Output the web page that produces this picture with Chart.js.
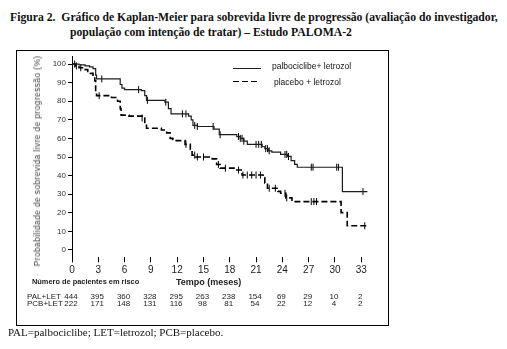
<!DOCTYPE html>
<html lang="pt">
<head>
<meta charset="UTF-8">
<title>Kaplan-Meier PALOMA-2</title>
<style>
    body {
        margin: 0;
        padding: 0;
        background: #fff;
        width: 507px;
        height: 349px;
        position: relative;
        overflow: hidden;
    }

    #chart {
        position: absolute;
        left: 0;
        top: 0;
    }

    .title {
        position: absolute;
        font-family: "Liberation Serif", "Times New Roman", serif;
        font-weight: bold;
        font-size: 11.7px;
        color: #111;
        white-space: nowrap;
    }

    .frame {
        position: absolute;
        left: 16px;
        top: 50px;
        width: 371px;
        height: 274px;
        border: 1px solid #000;
    }

    .ytitle {
        position: absolute;
        left: 37px;
        top: 161px;
        transform: translate(-50%, -50%) rotate(-90deg);
        font-family: "Liberation Sans", Arial, sans-serif;
        font-size: 8.5px;
        letter-spacing: 0.35px;
        color: #444;
        white-space: nowrap;
    }

    .leg-text {
        position: absolute;
        font-family: "Liberation Sans", Arial, sans-serif;
        font-size: 8.5px;
        color: #111;
        white-space: nowrap;
    }

    .leg-solid {
        position: absolute;
        left: 233px;
        top: 68px;
        width: 28px;
        height: 1px;
        background: #222;
    }

    .leg-dash {
        position: absolute;
        left: 233px;
        top: 80.5px;
        width: 26px;
        height: 1.5px;
        background: repeating-linear-gradient(to right, #000 0 6px, transparent 6px 9px);
    }

    .risk-head {
        position: absolute;
        font-family: "Liberation Sans", Arial, sans-serif;
        font-size: 7.4px;
        font-weight: bold;
        color: #222;
        white-space: nowrap;
    }

    .xtitle {
        position: absolute;
        font-family: "Liberation Sans", Arial, sans-serif;
        font-size: 9px;
        font-weight: bold;
        color: #222;
        white-space: nowrap;
    }

    .foot {
        position: absolute;
        left: 8px;
        top: 326px;
        font-family: "Liberation Serif", "Times New Roman", serif;
        font-size: 11px;
        color: #111;
        white-space: nowrap;
    }
</style>
</head>
<body>
    <div class="title" style="left:10px; top:11px;">Figura 2.&nbsp; Gráfico de Kaplan-Meier para sobrevida livre de progressão (avaliação do investigador,</div>
    <div class="title" style="left:70px; top:26px;">população com intenção de tratar) – Estudo PALOMA-2</div>
    <div class="frame"></div>
    <canvas id="chart" width="507" height="349"></canvas>
    <div class="ytitle">Probabilidade de sobrevida livre de progressão (%)</div>
    <div class="leg-solid"></div>
    <div class="leg-text" style="left:272px; top:61px;">palbociclibe+ letrozol</div>
    <div class="leg-dash"></div>
    <div class="leg-text" style="left:274px; top:77px;">placebo + letrozol</div>
    <div class="risk-head" style="left:32px; top:277px;">Número de pacientes em risco</div>
    <div class="xtitle" style="left:176px; top:277px;">Tempo (meses)</div>
    <div class="foot">PAL=palbociclibe; LET=letrozol; PCB=placebo.</div>

    <script src="https://cdn.jsdelivr.net/npm/chart.js"></script>
    <script>
        // step curves: time (months) and survival (%) from that time on
        const palTimes = [0, 0.8, 1.5, 2.0, 2.4, 2.7, 2.8, 5.5, 5.7, 6.0, 7.9, 8.3, 8.5, 10.6, 11.0, 11.3, 13.3, 13.6, 13.8, 14.3, 16.2, 16.8, 18.8, 19.2, 19.6, 20.0, 21.7, 22.0, 22.4, 22.8, 23.8, 24.6, 25.0, 25.4, 25.7, 30.85, 33.7];
        const palSurv  = [100, 99.5, 99, 98.5, 97.5, 94, 92, 89, 87, 86.2, 85.7, 83, 80.5, 79.5, 76, 73.2, 72, 70, 67, 66.4, 65, 62, 61, 60, 58.5, 56.8, 55.5, 54.5, 53.3, 52.6, 51.4, 50.3, 48, 46, 44.5, 31.4, 31.4];

        const pcbTimes = [0, 0.4, 0.8, 1.3, 1.8, 2.1, 2.4, 2.6, 2.7, 2.8, 4.5, 5.2, 5.5, 5.6, 6.5, 8.0, 8.3, 8.5, 10.2, 10.8, 11.2, 11.5, 12.9, 13.5, 13.7, 14.1, 16.0, 16.5, 16.9, 18.8, 19.4, 21.8, 22.0, 22.3, 23.5, 23.8, 24.4, 25.1, 30.7, 31.4, 33.7];
        const pcbSurv  = [100, 99, 98, 97, 96, 95, 94, 91, 85, 83, 82, 80, 76, 72.5, 72, 71, 68, 65.5, 64.5, 63, 60, 58.8, 56.8, 54, 51, 50, 49, 46, 44, 43, 40.3, 39, 36, 33.2, 31.5, 30.5, 28, 26, 20.1, 13, 13];

        // censored observations (months)
        const palCensor = [0.3, 3.4, 7.6, 8.6, 10.7, 12.6, 13.0, 14.0, 14.3, 16.1, 16.9, 19.0, 19.2, 19.4, 19.6, 21.0, 21.3, 21.6, 22.1, 22.3, 22.5, 24.3, 24.5, 24.7, 27.3, 27.5, 30.2, 30.4, 33.2];
        const pcbCensor = [0.5, 1.0, 3.1, 8.0, 13.0, 14.0, 14.3, 15.0, 16.7, 17.5, 19.0, 19.5, 20.0, 20.5, 21.0, 21.5, 22.5, 23.2, 24.3, 24.5, 27.3, 27.6, 27.9, 33.4];

        // axis ticks and numbers at risk
        const xTicks = [0, 3, 6, 9, 12, 15, 18, 21, 24, 27, 30, 33];
        const yTicks = [0, 10, 20, 30, 40, 50, 60, 70, 80, 90, 100];
        const palAtRisk = [444, 395, 360, 328, 295, 263, 238, 154, 69, 29, 10, 2];
        const pcbAtRisk = [222, 171, 148, 131, 116, 98, 81, 54, 22, 12, 4, 2];

        function toPoints(times, surv) {
            return times.map((t, i) => ({ x: t, y: surv[i] }));
        }

        // survival value holding at time t on a step curve
        function survAt(times, surv, t) {
            let v = surv[0];
            for (let i = 0; i < times.length; i++) {
                if (times[i] <= t) v = surv[i];
            }
            return v;
        }

        function censorPoints(cens, times, surv) {
            return cens.map(t => ({ x: t, y: survAt(times, surv, t) }));
        }

        // numbers at risk under the x axis, placed on the x scale
        const riskTable = {
            id: 'riskTable',
            afterDraw(chart) {
                const ctx = chart.ctx;
                const xs = chart.scales.x;
                ctx.save();
                ctx.fillStyle = '#222';
                ctx.font = '8px "Liberation Sans", Arial, sans-serif';
                ctx.textBaseline = 'middle';
                ctx.textAlign = 'left';
                ctx.fillText('PAL+LET', 27, 296.5);
                ctx.fillText('PCB+LET', 27, 303.5);
                ctx.textAlign = 'center';
                xTicks.forEach((t, i) => {
                    const px = xs.getPixelForValue(t);
                    ctx.fillText(String(palAtRisk[i]), px - 1, 296.5);
                    ctx.fillText(String(pcbAtRisk[i]), px - 1, 303.5);
                });
                ctx.restore();
            }
        };

        new Chart(document.getElementById('chart'), {
            type: 'line',
            data: {
                datasets: [
                    {
                        label: 'palbociclibe+ letrozol',
                        data: toPoints(palTimes, palSurv),
                        stepped: true,
                        borderColor: '#1c1c1c',
                        borderWidth: 1.2,
                        pointRadius: 0,
                        fill: false
                    },
                    {
                        label: 'placebo + letrozol',
                        data: toPoints(pcbTimes, pcbSurv),
                        stepped: true,
                        borderColor: '#000',
                        borderWidth: 1.6,
                        borderDash: [6, 3],
                        pointRadius: 0,
                        fill: false
                    },
                    {
                        type: 'scatter',
                        data: censorPoints(palCensor, palTimes, palSurv),
                        pointStyle: 'line',
                        rotation: 90,
                        pointRadius: 3.5,
                        borderColor: '#000',
                        borderWidth: 1,
                        showLine: false
                    },
                    {
                        type: 'scatter',
                        data: censorPoints(pcbCensor, pcbTimes, pcbSurv),
                        pointStyle: 'line',
                        rotation: 90,
                        pointRadius: 3.5,
                        borderColor: '#000',
                        borderWidth: 1,
                        showLine: false
                    }
                ]
            },
            options: {
                responsive: false,
                animation: false,
                layout: {
                    padding: { left: 42, top: 56.6, right: 137, bottom: 71.6 }
                },
                plugins: {
                    legend: { display: false },
                    tooltip: { enabled: false }
                },
                scales: {
                    x: {
                        type: 'linear',
                        min: 0,
                        max: 34,
                        afterBuildTicks: s => { s.ticks = xTicks.map(v => ({ value: v })); },
                        afterFit: s => { s.height = 20; },
                        border: { display: false },
                        grid: { drawOnChartArea: false, tickLength: 5, color: '#000' },
                        ticks: {
                            color: '#222',
                            padding: 2,
                            maxRotation: 0,
                            font: { family: '"Liberation Sans", Arial, sans-serif', size: 10 }
                        }
                    },
                    y: {
                        min: -4,
                        max: 104,
                        afterBuildTicks: s => { s.ticks = yTicks.map(v => ({ value: v })); },
                        afterFit: s => { s.width = 30; },
                        border: { display: true, color: '#000', width: 1 },
                        grid: { drawOnChartArea: false, tickLength: 4, color: '#000' },
                        ticks: {
                            color: '#333',
                            padding: 2,
                            font: { family: '"Liberation Sans", Arial, sans-serif', size: 8 }
                        }
                    }
                }
            },
            plugins: [riskTable]
        });
    </script>
</body>
</html>
